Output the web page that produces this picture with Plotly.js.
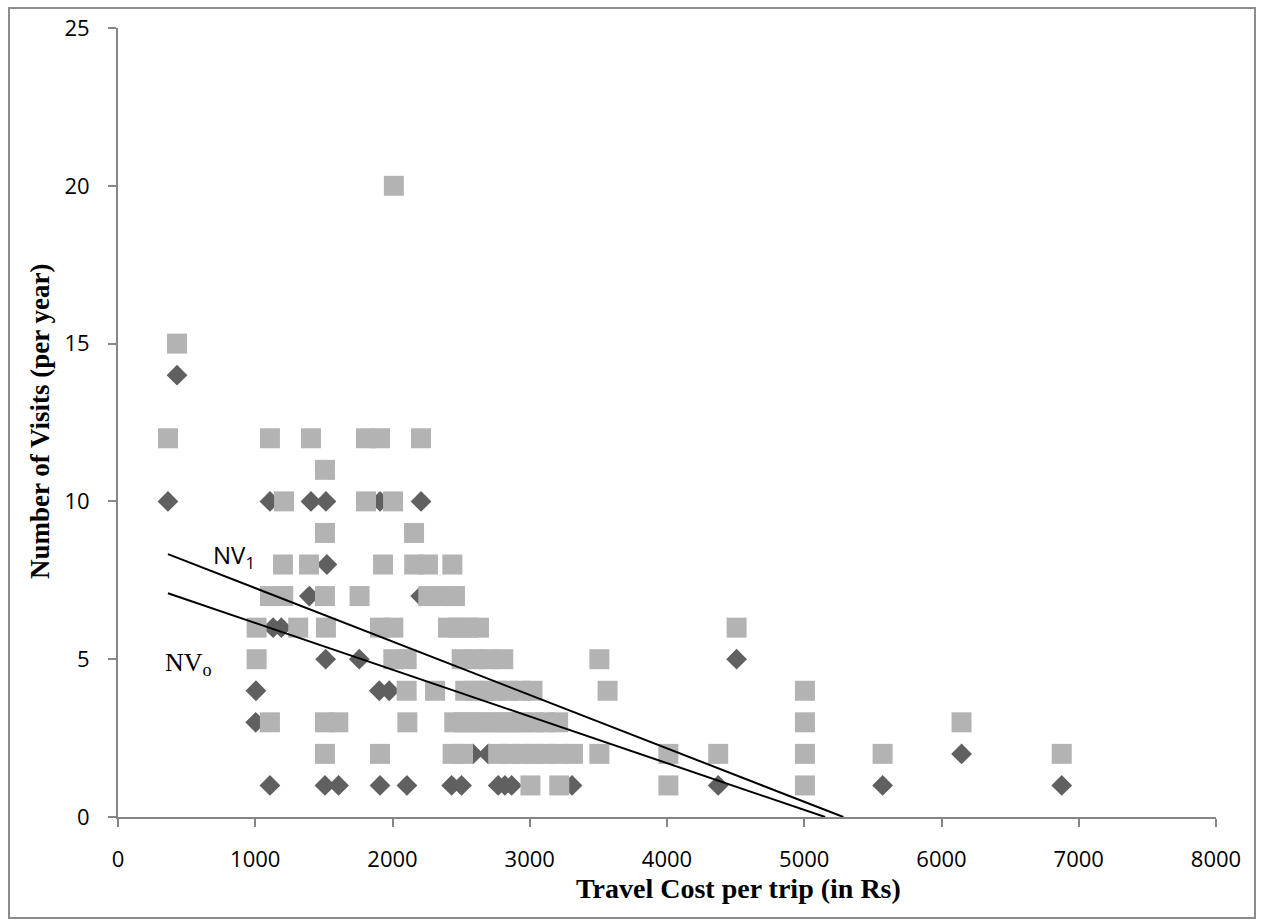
<!DOCTYPE html>
<html>
<head>
<meta charset="utf-8">
<script src="https://cdn.plot.ly/plotly-3.0.1.min.js"></script>
<style>
  html, body { margin: 0; padding: 0; background: #ffffff; }
  #chart { width: 1265px; height: 920px; }
</style>
</head>
<body>
<div id="chart"></div>
<script>
// ---- Data ----
// Light grey squares (number of visits, scenario 1)
const squareCost = [
  2010,
  430,
  364, 1107, 1406, 1807, 1909, 2208,
  1508,
  1210, 1807, 2004,
  1508, 2157,
  1202, 1392, 1931, 2158, 2258, 2436,
  1107, 1204, 1508, 1760, 2261, 2350, 2455,
  1010, 1313, 1515, 1909, 2006, 2404, 2480, 2550, 2630, 4507,
  1010, 2006, 2103, 2504, 2600, 2700, 2807, 3507,
  2103, 2310, 2530, 2600, 2680, 2760, 2840, 2930, 3020, 3567, 5005,
  1107, 1508, 1605, 2108, 2450, 2520, 2590, 2660, 2740, 2810, 2880, 2950, 3030, 3110, 3207, 5005, 6146,
  1508, 1909, 2438, 2514, 2770, 2857, 2944, 3025, 3110, 3205, 3315, 3507, 4010, 4373, 5005, 5571, 6876,
  3005, 3215, 4010, 5005
];
const squareVisits = [
  20,
  15,
  12, 12, 12, 12, 12, 12,
  11,
  10, 10, 10,
  9, 9,
  8, 8, 8, 8, 8, 8,
  7, 7, 7, 7, 7, 7, 7,
  6, 6, 6, 6, 6, 6, 6, 6, 6, 6,
  5, 5, 5, 5, 5, 5, 5, 5,
  4, 4, 4, 4, 4, 4, 4, 4, 4, 4, 4,
  3, 3, 3, 3, 3, 3, 3, 3, 3, 3, 3, 3, 3, 3, 3, 3, 3,
  2, 2, 2, 2, 2, 2, 2, 2, 2, 2, 2, 2, 2, 2, 2, 2, 2,
  1, 1, 1, 1
];
// Dark grey diamonds (number of visits, scenario 0)
const diamondCost = [
  430,
  364, 1107, 1406, 1515, 1909, 2208,
  1522,
  1394, 2205,
  1130, 1190,
  1513, 1758, 4507,
  1005, 1904, 1976,
  1003,
  2587, 2697, 6146,
  1107, 1508, 1607, 1909, 2105, 2431, 2503, 2770, 2819, 2868, 3308, 4373, 5571, 6876
];
const diamondVisits = [
  14,
  10, 10, 10, 10, 10, 10,
  8,
  7, 7,
  6, 6,
  5, 5, 5,
  4, 4, 4,
  3,
  2, 2, 2,
  1, 1, 1, 1, 1, 1, 1, 1, 1, 1, 1, 1, 1, 1
];
// Demand lines NV0 and NV1 (end points)
const nv1Cost = [364, 5285];
const nv1Visits = [8.33, 0];
const nv0Cost = [364, 5152];
const nv0Visits = [7.09, 0];
// Axis ticks
const xTicks = [0, 1000, 2000, 3000, 4000, 5000, 6000, 7000, 8000];
const yTicks = [0, 5, 10, 15, 20, 25];
// Texts
const xTitle = 'Travel Cost per trip (in Rs)';
const yTitle = 'Number of Visits (per year)';

const traces = [
  {
    x: diamondCost, y: diamondVisits, type: 'scatter', mode: 'markers', name: 'NV0',
    marker: { symbol: 'diamond', size: 16, color: '#606060', line: { width: 0 } },
    hoverinfo: 'x+y'
  },
  {
    x: squareCost, y: squareVisits, type: 'scatter', mode: 'markers', name: 'NV1',
    marker: { symbol: 'square', size: 20, color: '#b3b3b3', line: { width: 0 } },
    hoverinfo: 'x+y'
  },
  {
    x: nv1Cost, y: nv1Visits, type: 'scatter', mode: 'lines', name: 'NV1 line',
    line: { color: '#000000', width: 2 }, hoverinfo: 'skip'
  },
  {
    x: nv0Cost, y: nv0Visits, type: 'scatter', mode: 'lines', name: 'NV0 line',
    line: { color: '#000000', width: 2 }, hoverinfo: 'skip'
  }
];

const L = 118, R = 1216, T = 28, B = 817;
const PW = R - L, PH = B - T;
function px(xp) { return (xp - L) / PW; }
function py(yp) { return (B - yp) / PH; }

const serif = '"Liberation Serif", "Times New Roman", serif';
const sans = '"Open Sans", sans-serif';

const layout = {
  width: 1265, height: 920,
  margin: { l: L, r: 1265 - R, t: T, b: 920 - B },
  paper_bgcolor: '#ffffff', plot_bgcolor: '#ffffff',
  showlegend: false,
  font: { family: sans, color: '#000000', size: 22 },
  xaxis: {
    range: [0, 8000], tickvals: xTicks, ticktext: xTicks.map(String),
    showgrid: false, zeroline: false,
    showline: true, linecolor: '#868686', linewidth: 2,
    ticks: 'outside', ticklen: 8, tickwidth: 2, tickcolor: '#868686',
    tickfont: { family: sans, size: 22, color: '#000' },
    ticklabelstandoff: 14
  },
  yaxis: {
    range: [0, 25], tickvals: yTicks, ticktext: yTicks.map(String),
    showgrid: false, zeroline: false,
    showline: true, linecolor: '#868686', linewidth: 2,
    ticks: 'outside', ticklen: 8, tickwidth: 2, tickcolor: '#868686',
    tickfont: { family: sans, size: 22, color: '#000' },
    ticklabelstandoff: 14
  },
  annotations: [
    { x: px(738), y: py(889), xref: 'paper', yref: 'paper', showarrow: false,
      xanchor: 'center', yanchor: 'middle',
      text: '<b>' + xTitle + '</b>', font: { family: serif, size: 28, color: '#000' } },
    { x: px(40), y: py(422), xref: 'paper', yref: 'paper', showarrow: false,
      xanchor: 'center', yanchor: 'middle', textangle: -90,
      text: '<b>' + yTitle + '</b>', font: { family: serif, size: 27, color: '#000' } },
    { x: 845, y: 8.27, xref: 'x', yref: 'y', showarrow: false,
      text: 'NV<sub>1</sub>', font: { family: sans, size: 24, color: '#000' } },
    { x: 510, y: 4.85, xref: 'x', yref: 'y', showarrow: false,
      text: 'NV<sub>o</sub>', font: { family: serif, size: 26, color: '#000' } }
  ],
  shapes: [
    { type: 'rect', xref: 'paper', yref: 'paper',
      x0: px(9), x1: px(1255), y0: py(918), y1: py(8),
      line: { color: '#8c8c8c', width: 2 }, fillcolor: 'rgba(0,0,0,0)', layer: 'below' }
  ]
};

Plotly.newPlot('chart', traces, layout, { displayModeBar: false, staticPlot: true });
</script>
</body>
</html>
